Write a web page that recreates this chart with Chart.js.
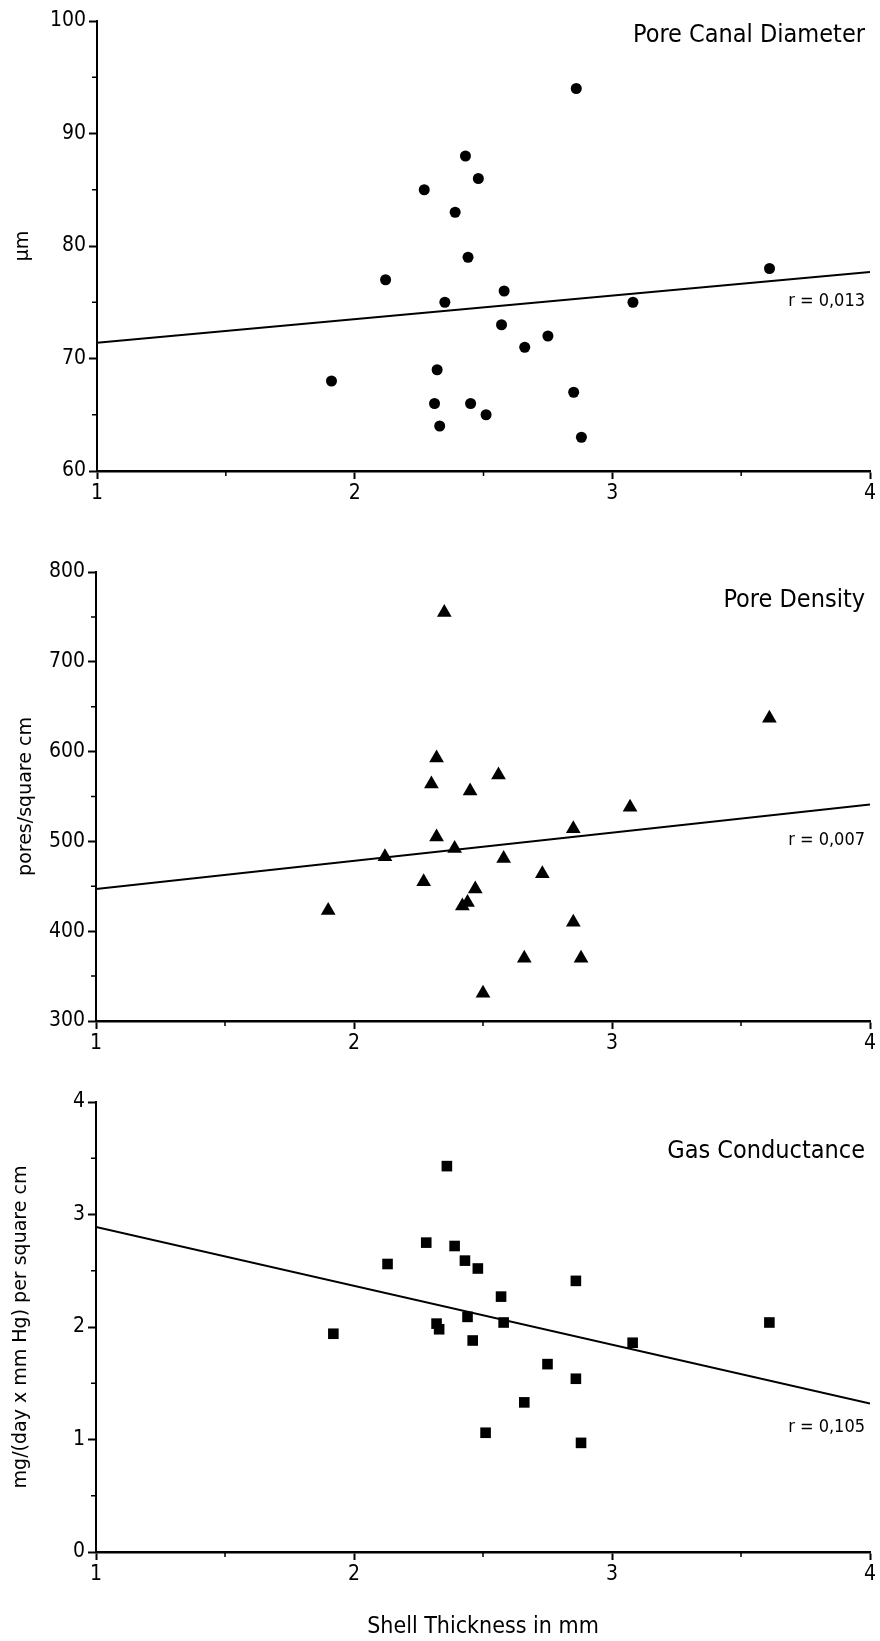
<!DOCTYPE html>
<html lang="en">
<head>
    <meta charset="UTF-8">
    <title>Shell Thickness</title>
    <script src="https://cdn.jsdelivr.net/npm/chart.js"></script>
    <style>
        html, body { margin: 0; padding: 0; background: #fff; }
        .panel { position: absolute; left: 0; width: 880px; }
    </style>
</head>
<body>
<div class="panel" style="top:0;height:520px"><canvas id="c1"></canvas></div>
<div class="panel" style="top:540px;height:520px"><canvas id="c2"></canvas></div>
<div class="panel" style="top:1070px;height:571px"><canvas id="c3"></canvas></div>

<script>
    // Pore canal diameter (um) vs shell thickness (mm)
    const diamX = [1.91, 2.12, 2.27, 2.39, 2.43, 2.48, 2.44, 2.35, 2.58, 2.57, 2.75, 2.66, 2.86, 3.08, 3.61, 2.32, 2.31, 2.45, 2.51, 2.33, 2.85, 2.88];
    const diamY = [68, 77, 85, 83, 88, 86, 79, 75, 76, 73, 72, 71, 94, 75, 78, 69, 66, 66, 65, 64, 67, 63];
    const diamFit = [71.4, 77.7];

    // Pore density (pores / square cm)
    const densX = [1.90, 2.12, 2.27, 2.30, 2.32, 2.32, 2.35, 2.39, 2.42, 2.44, 2.45, 2.47, 2.56, 2.58, 2.50, 2.66, 2.73, 2.85, 2.85, 2.88, 3.07, 3.61];
    const densY = [423, 483, 455, 564, 593, 505, 755, 492, 428, 432, 556, 447, 574, 481, 331, 370, 464, 514, 410, 370, 538, 637];
    const densFit = [447, 541];

    // Gas conductance (mg/(day x mm Hg) per square cm)
    const gasX = [1.92, 2.13, 2.28, 2.36, 2.39, 2.43, 2.48, 2.57, 2.44, 2.58, 2.32, 2.33, 2.46, 2.86, 3.61, 3.08, 2.75, 2.86, 2.66, 2.51, 2.88];
    const gasY = [1.94, 2.56, 2.75, 3.43, 2.72, 2.59, 2.52, 2.27, 2.09, 2.04, 2.03, 1.98, 1.88, 2.41, 2.04, 1.86, 1.67, 1.54, 1.33, 1.06, 0.97];
    const gasFit = [2.89, 1.32];

    const fitX = [1, 4];
    const xTicks = [1, 2, 3, 4];

    // condensed font if installed, otherwise the regular one
    function hasFont(name) {
        const c = document.createElement('canvas').getContext('2d');
        c.font = "40px monospace";
        const a = c.measureText('abcdefghij0123').width;
        c.font = "40px '" + name + "', monospace";
        return c.measureText('abcdefghij0123').width !== a;
    }
    const cond = hasFont('DejaVu Sans Condensed');
    const labelFam = cond ? "'DejaVu Sans Condensed', sans-serif" : "'Liberation Sans', Arial, sans-serif";
    const k = cond ? 1.02 : 1.03;

    const tickFont = { family: labelFam, size: Math.round(21 * k) };
    const axisFont = { family: "'DejaVu Sans', Verdana, sans-serif", size: 19 };

    function isMajor(v, step) {
        const q = v / step;
        return Math.abs(q - Math.round(q)) < 1e-6;
    }

    // short minor ticks on both axes
    const minorTicks = {
        id: 'minorTicks',
        afterDraw(chart, args, opts) {
            const ctx = chart.ctx;
            const x = chart.scales.x, y = chart.scales.y;
            ctx.save();
            ctx.strokeStyle = '#000';
            ctx.lineWidth = 1.5;
            ctx.beginPath();
            x.ticks.forEach(t => {
                if (!isMajor(t.value, 1)) {
                    const px = x.getPixelForValue(t.value);
                    ctx.moveTo(px, x.top);
                    ctx.lineTo(px, x.top + 5);
                }
            });
            y.ticks.forEach(t => {
                if (!isMajor(t.value, opts.yMajor)) {
                    const py = y.getPixelForValue(t.value);
                    ctx.moveTo(y.right - 5, py);
                    ctx.lineTo(y.right, py);
                }
            });
            ctx.stroke();
            ctx.restore();
        }
    };

    // panel title and r label inside the plot
    const panelText = {
        id: 'panelText',
        afterDraw(chart, args, opts) {
            const {ctx, chartArea} = chart;
            ctx.save();
            ctx.fillStyle = '#000';
            ctx.textAlign = 'right';
            ctx.textBaseline = 'middle';
            ctx.font = Math.round(24.5 * k) + "px " + labelFam;
            ctx.fillText(opts.title, chartArea.right - opts.dx, chartArea.top + opts.titleDy);
            ctx.font = Math.round(18 * k) + "px " + labelFam;
            ctx.fillText(opts.r, chartArea.right - opts.dx, chartArea.top + opts.rDy);
            ctx.restore();
        }
    };

    function makePanel(id, cfg) {
        const pts = cfg.xs.map((x, i) => ({x: x, y: cfg.ys[i]}));
        const fit = fitX.map((x, i) => ({x: x, y: cfg.fit[i]}));
        new Chart(document.getElementById(id), {
            type: 'scatter',
            data: {
                datasets: [{
                    data: pts,
                    pointStyle: cfg.marker,
                    pointRadius: cfg.radius,
                    pointHoverRadius: cfg.radius,
                    backgroundColor: '#000',
                    borderColor: '#000',
                    borderWidth: 0
                }, {
                    data: fit,
                    showLine: true,
                    borderColor: '#000',
                    borderWidth: 2,
                    pointRadius: 0
                }]
            },
            options: {
                responsive: true,
                maintainAspectRatio: false,
                animation: false,
                layout: { padding: { top: cfg.top, right: 10, left: 0, bottom: 0 } },
                plugins: {
                    legend: { display: false },
                    tooltip: { enabled: false },
                    minorTicks: { yMajor: cfg.yMajor },
                    panelText: { title: cfg.title, r: cfg.r, dx: 5, titleDy: cfg.titleDy, rDy: cfg.rDy }
                },
                scales: {
                    x: {
                        type: 'linear',
                        min: 1, max: 4,
                        afterBuildTicks: s => { s.ticks = [1, 1.5, 2, 2.5, 3, 3.5, 4].map(v => ({value: v})); },
                        ticks: {
                            color: '#000',
                            font: tickFont,
                            padding: 2,
                            maxRotation: 0,
                            autoSkip: false,
                            callback: v => xTicks.includes(v) ? String(v) : ''
                        },
                        grid: {
                            drawOnChartArea: false,
                            tickLength: 8,
                            tickWidth: 2,
                            tickColor: c => isMajor(c.tick.value, 1) ? '#000' : 'rgba(0,0,0,0)'
                        },
                        border: { color: '#000', width: 2.5 },
                        title: {
                            display: !!cfg.xTitle,
                            text: cfg.xTitle || '',
                            color: '#000',
                            font: { family: labelFam, size: Math.round(23 * k) },
                            padding: { top: 0, bottom: 0 }
                        },
                        afterFit: s => { s.height = cfg.height - cfg.bottom; }
                    },
                    y: {
                        min: cfg.yMin, max: cfg.yMax,
                        ticks: {
                            stepSize: cfg.yMajor / 2,
                            color: '#000',
                            font: tickFont,
                            padding: 3,
                            callback: v => isMajor(v, cfg.yMajor) ? String(v) : ''
                        },
                        grid: {
                            drawOnChartArea: false,
                            tickLength: 8,
                            tickWidth: 2,
                            tickColor: c => isMajor(c.tick.value, cfg.yMajor) ? '#000' : 'rgba(0,0,0,0)'
                        },
                        border: { color: '#000', width: 2 },
                        title: {
                            display: true,
                            text: cfg.yTitle,
                            color: '#000',
                            font: axisFont,
                            padding: { top: cfg.yTitlePad, bottom: 0 }
                        },
                        afterFit: s => { s.width = cfg.left; }
                    }
                }
            },
            plugins: [minorTicks, panelText]
        });
    }

    makePanel('c1', {
        xs: diamX, ys: diamY, fit: diamFit,
        marker: 'circle', radius: 5.5,
        yMin: 60, yMax: 100, yMajor: 10,
        yTitle: 'µm', yTitlePad: 12,
        title: 'Pore Canal Diameter', r: 'r = 0,013', titleDy: 14, rDy: 280,
        top: 21, bottom: 471, height: 520, left: 97
    });

    makePanel('c2', {
        xs: densX, ys: densY, fit: densFit,
        marker: 'triangle', radius: 8.5,
        yMin: 300, yMax: 800, yMajor: 100,
        yTitle: 'pores/square cm', yTitlePad: 15,
        title: 'Pore Density', r: 'r = 0,007', titleDy: 28, rDy: 268,
        top: 32, bottom: 481, height: 520, left: 96
    });

    makePanel('c3', {
        xs: gasX, ys: gasY, fit: gasFit,
        marker: 'rect', radius: 7.5,
        yMin: 0, yMax: 4, yMajor: 1,
        yTitle: 'mg/(day x mm Hg) per square cm', yTitlePad: 10,
        title: 'Gas Conductance', r: 'r = 0,105', titleDy: 49, rDy: 325,
        xTitle: 'Shell Thickness in mm',
        top: 32, bottom: 482, height: 571, left: 96
    });
</script>
</body>
</html>
